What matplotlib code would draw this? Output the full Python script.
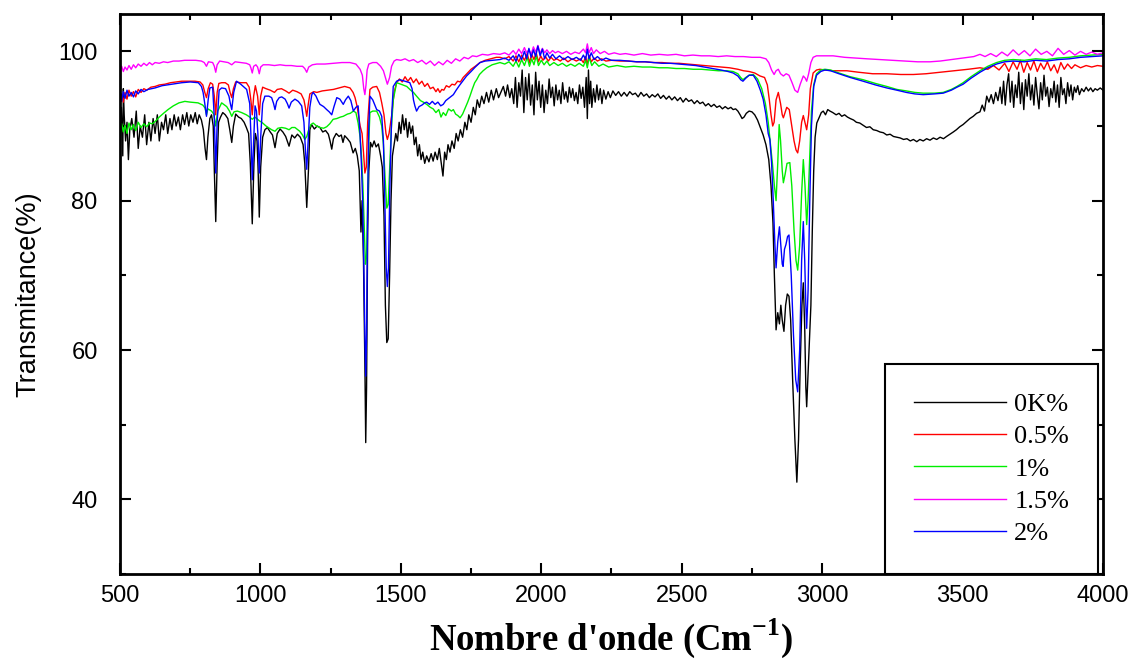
import numpy as np
import matplotlib
matplotlib.use("Agg")
import matplotlib.pyplot as plt
from matplotlib.ticker import MultipleLocator

plt.rcParams["mathtext.fontset"] = "custom"
plt.rcParams["mathtext.rm"] = "Liberation Serif:bold"
plt.rcParams["mathtext.bf"] = "Liberation Serif:bold"

# spectra: (wavenumber cm-1, transmittance %)
black_0k = [
    (500, 88.5), (505, 92.5), (510, 86.0), (512, 95.0), (515, 91.5), (520, 88.0), (525, 90.5),
    (530, 85.5), (535, 89.5), (542, 91.0), (550, 88.5), (558, 92.0), (565, 87.0), (572, 90.0),
    (580, 88.5), (588, 91.5), (595, 87.5), (603, 90.5), (610, 88.0), (618, 91.0), (625, 89.0),
    (633, 91.5), (640, 88.0), (648, 90.5), (655, 89.5), (663, 91.5), (670, 89.0), (678, 91.0),
    (685, 89.5), (693, 91.5), (700, 90.0), (708, 91.2), (715, 89.5), (723, 91.5), (730, 90.2),
    (738, 91.8), (745, 90.0), (752, 91.5), (760, 90.5), (768, 91.8), (775, 90.3), (782, 91.5),
    (790, 90.8), (797, 89.5), (803, 87.0), (808, 85.5), (813, 88.5), (820, 91.0), (826, 91.5),
    (832, 90.0), (836, 84.0), (841, 77.2), (846, 85.0), (851, 90.5), (858, 91.2), (866, 91.8),
    (875, 91.5), (884, 91.0), (891, 89.5), (898, 87.8), (904, 90.0), (912, 91.6), (922, 91.2),
    (932, 91.0), (942, 90.5), (950, 89.8), (958, 89.0), (964, 85.0), (971, 76.9), (977, 85.0),
    (982, 89.0), (988, 88.0), (992, 84.0), (996, 77.8), (1001, 84.5), (1008, 88.5), (1016, 89.5),
    (1025, 89.8), (1035, 89.2), (1043, 88.8), (1052, 87.1), (1060, 89.0), (1070, 89.6),
    (1080, 89.2), (1090, 88.6), (1102, 87.3), (1112, 88.8), (1122, 88.4), (1132, 88.9),
    (1142, 88.5), (1152, 87.5), (1158, 85.0), (1165, 79.1), (1171, 84.0), (1176, 89.5),
    (1182, 90.2), (1192, 89.6), (1202, 90.0), (1212, 89.8), (1222, 89.2), (1232, 89.4),
    (1242, 88.9), (1248, 88.0), (1254, 86.9), (1260, 88.3), (1270, 89.0), (1280, 88.6),
    (1288, 88.8), (1294, 87.8), (1300, 88.7), (1310, 88.3), (1320, 87.8), (1330, 86.4),
    (1338, 87.0), (1345, 86.0), (1352, 84.0), (1358, 75.8), (1362, 80.0), (1367, 72.0),
    (1372, 58.0), (1375, 47.6), (1378, 55.0), (1382, 76.0), (1386, 84.0), (1392, 87.8),
    (1398, 87.2), (1405, 88.0), (1412, 87.2), (1420, 87.6), (1428, 86.0), (1434, 84.5),
    (1440, 78.0), (1445, 66.0), (1450, 61.0), (1455, 61.5), (1460, 70.0), (1465, 80.0),
    (1470, 86.0), (1476, 87.5), (1482, 89.0), (1488, 88.0), (1494, 90.5), (1500, 89.0),
    (1506, 91.5), (1512, 89.5), (1518, 91.0), (1524, 88.5), (1530, 90.5), (1536, 89.0),
    (1542, 90.0), (1548, 87.5), (1554, 88.5), (1560, 86.0), (1566, 87.5), (1572, 85.5),
    (1578, 86.5), (1585, 85.0), (1592, 86.0), (1600, 85.2), (1608, 86.3), (1615, 85.3),
    (1622, 86.5), (1630, 85.5), (1637, 87.0), (1644, 85.0), (1650, 83.3), (1656, 86.5),
    (1662, 85.5), (1668, 87.5), (1675, 86.5), (1682, 88.0), (1690, 87.0), (1697, 89.0),
    (1704, 88.0), (1712, 89.5), (1720, 88.5), (1728, 90.5), (1735, 89.5), (1742, 91.5),
    (1750, 90.5), (1758, 92.5), (1765, 91.5), (1772, 93.5), (1780, 92.5), (1788, 94.0),
    (1796, 93.0), (1805, 94.5), (1813, 93.2), (1822, 94.8), (1830, 93.5), (1840, 95.0),
    (1848, 93.8), (1856, 94.5), (1865, 95.3), (1873, 94.0), (1880, 95.5), (1888, 93.8),
    (1895, 95.0), (1902, 93.0), (1908, 96.5), (1914, 92.5), (1920, 95.8), (1926, 94.0),
    (1932, 97.5), (1938, 91.8), (1944, 96.5), (1950, 93.5), (1956, 97.0), (1962, 92.8),
    (1968, 95.5), (1974, 91.5), (1980, 97.2), (1986, 93.5), (1992, 96.0), (1998, 92.5),
    (2004, 95.5), (2010, 91.8), (2016, 94.8), (2022, 93.0), (2028, 96.3), (2034, 93.8),
    (2040, 95.2), (2046, 92.7), (2052, 95.5), (2058, 93.5), (2064, 94.8), (2070, 93.0),
    (2076, 95.8), (2082, 93.6), (2088, 94.6), (2094, 93.2), (2100, 95.2), (2106, 93.8),
    (2112, 95.0), (2118, 93.4), (2124, 94.5), (2130, 93.0), (2136, 95.5), (2142, 93.7),
    (2148, 95.2), (2154, 92.5), (2160, 96.5), (2164, 91.0), (2168, 97.5), (2172, 93.0),
    (2176, 96.0), (2180, 92.5), (2186, 95.0), (2192, 93.2), (2198, 95.5), (2204, 93.5),
    (2210, 95.0), (2216, 93.0), (2222, 94.8), (2230, 93.6), (2238, 94.6), (2246, 93.8),
    (2255, 94.7), (2265, 94.1), (2275, 94.6), (2285, 94.0), (2295, 94.5), (2305, 94.0),
    (2315, 94.6), (2325, 94.2), (2335, 94.4), (2345, 93.9), (2355, 94.5), (2365, 94.0),
    (2375, 94.3), (2385, 93.8), (2395, 94.2), (2405, 93.9), (2415, 94.3), (2425, 93.7),
    (2435, 94.1), (2445, 93.6), (2455, 94.0), (2465, 93.5), (2475, 93.9), (2485, 93.4),
    (2495, 93.8), (2505, 93.2), (2515, 93.7), (2525, 93.3), (2535, 93.5), (2545, 93.0),
    (2555, 93.4), (2565, 93.0), (2575, 93.2), (2585, 92.7), (2595, 93.0), (2605, 92.6),
    (2615, 92.9), (2625, 92.5), (2635, 92.7), (2645, 92.3), (2655, 92.6), (2665, 92.3),
    (2675, 92.5), (2683, 92.2), (2692, 92.3), (2700, 92.0), (2708, 91.5), (2715, 91.0),
    (2722, 91.2), (2730, 91.7), (2740, 92.0), (2750, 91.9), (2760, 91.5), (2770, 90.8),
    (2780, 89.8), (2790, 88.8), (2800, 87.5), (2810, 85.5), (2818, 82.0), (2825, 77.0),
    (2830, 70.0), (2836, 62.7), (2842, 65.0), (2848, 63.5), (2853, 66.0), (2858, 64.0),
    (2864, 62.5), (2870, 66.0), (2876, 67.5), (2882, 67.2), (2888, 64.0), (2895, 56.0),
    (2903, 48.0), (2910, 42.3), (2916, 48.0), (2922, 58.0), (2928, 66.0), (2933, 69.0),
    (2938, 63.0), (2942, 55.0), (2945, 52.4), (2950, 57.0), (2955, 61.8), (2960, 66.0),
    (2965, 76.0), (2970, 84.0), (2975, 88.5), (2981, 90.4), (2990, 91.2), (2997, 91.8),
    (3004, 92.0), (3012, 91.5), (3020, 92.2), (3028, 92.0), (3038, 91.8), (3050, 91.5),
    (3060, 91.7), (3070, 91.3), (3080, 91.5), (3090, 91.2), (3100, 91.0), (3112, 90.8),
    (3122, 90.5), (3134, 90.4), (3146, 90.1), (3158, 89.8), (3170, 89.9), (3182, 89.5),
    (3194, 89.4), (3206, 89.2), (3218, 89.1), (3230, 88.8), (3242, 88.9), (3254, 88.6),
    (3266, 88.5), (3278, 88.4), (3290, 88.2), (3302, 88.3), (3314, 88.0), (3325, 88.2),
    (3337, 87.9), (3348, 88.2), (3360, 88.0), (3372, 88.3), (3384, 88.1), (3396, 88.4),
    (3408, 88.2), (3420, 88.5), (3432, 88.3), (3443, 88.6), (3455, 88.9), (3467, 89.2),
    (3478, 89.5), (3490, 89.9), (3502, 90.2), (3514, 90.6), (3526, 91.0), (3538, 91.3),
    (3550, 91.7), (3562, 91.9), (3570, 92.8), (3578, 92.0), (3586, 94.0), (3594, 93.2),
    (3602, 94.2), (3610, 93.0), (3618, 94.5), (3626, 93.4), (3634, 95.2), (3640, 93.0),
    (3646, 96.0), (3652, 92.8), (3658, 95.5), (3664, 97.0), (3670, 93.2), (3676, 96.0),
    (3682, 92.5), (3688, 95.5), (3694, 93.8), (3700, 97.2), (3706, 93.0), (3712, 95.8),
    (3718, 92.2), (3724, 96.2), (3730, 94.0), (3736, 97.0), (3742, 93.5), (3748, 95.5),
    (3754, 92.8), (3760, 96.5), (3766, 94.2), (3772, 92.3), (3778, 95.8), (3784, 93.5),
    (3790, 96.8), (3796, 94.0), (3802, 95.2), (3808, 92.6), (3814, 95.0), (3820, 93.8),
    (3826, 96.0), (3832, 93.2), (3838, 95.5), (3844, 92.5), (3850, 96.5), (3856, 94.2),
    (3862, 95.0), (3868, 93.0), (3874, 95.8), (3880, 94.0), (3886, 95.5), (3892, 93.5),
    (3898, 95.2), (3904, 94.5), (3910, 95.4), (3916, 94.2), (3924, 95.0), (3932, 94.6),
    (3940, 95.2), (3948, 94.7), (3956, 95.1), (3964, 94.6), (3972, 95.0), (3980, 94.8),
    (3990, 95.1), (4000, 94.8),
]

red_05 = [
    (500, 93.5), (506, 94.3), (512, 93.2), (518, 94.5), (525, 93.6), (532, 94.8), (540, 94.0),
    (548, 94.6), (556, 93.9), (565, 94.9), (575, 94.5), (585, 95.0), (595, 94.8), (610, 95.2),
    (625, 95.3), (640, 95.5), (660, 95.6), (680, 95.8), (700, 95.9), (720, 96.0), (740, 96.0),
    (767, 96.0), (785, 95.9), (795, 95.5), (802, 94.5), (808, 93.8), (814, 95.0), (822, 95.8),
    (830, 95.6), (836, 94.0), (841, 91.5), (846, 94.5), (852, 95.7), (862, 95.8), (875, 95.8),
    (886, 95.5), (892, 94.5), (898, 93.8), (904, 95.0), (912, 95.9), (930, 95.8), (950, 95.8),
    (960, 95.2), (966, 93.5), (971, 91.5), (976, 94.0), (982, 95.4), (990, 94.0), (996, 91.5),
    (1001, 94.0), (1008, 95.2), (1020, 95.0), (1035, 94.8), (1050, 94.5), (1060, 94.9),
    (1075, 95.0), (1090, 94.7), (1102, 94.4), (1115, 94.8), (1130, 94.6), (1145, 94.3),
    (1155, 93.5), (1160, 92.5), (1165, 91.3), (1170, 92.8), (1176, 94.3), (1190, 94.6),
    (1201, 94.5), (1220, 94.7), (1240, 94.8), (1260, 94.9), (1280, 95.1), (1300, 95.3),
    (1319, 95.1), (1330, 94.5), (1337, 93.8), (1345, 92.5), (1355, 90.0), (1362, 89.0),
    (1367, 86.5), (1372, 83.7), (1377, 84.5), (1382, 90.5), (1390, 94.9), (1400, 95.2),
    (1414, 95.3), (1424, 94.5), (1432, 93.1), (1440, 91.5), (1447, 89.0), (1452, 88.2),
    (1458, 89.0), (1467, 91.3), (1476, 94.5), (1485, 95.8), (1495, 96.3), (1505, 95.9),
    (1515, 96.6), (1525, 96.0), (1535, 96.5), (1545, 95.8), (1555, 96.3), (1565, 95.6),
    (1575, 96.0), (1585, 95.3), (1595, 95.7), (1605, 95.0), (1615, 95.2), (1625, 94.6),
    (1632, 95.0), (1639, 94.5), (1646, 94.9), (1653, 94.8), (1662, 95.4), (1672, 95.2),
    (1682, 95.6), (1692, 95.5), (1702, 96.0), (1712, 95.9), (1722, 96.5), (1735, 97.0),
    (1750, 97.6), (1765, 98.0), (1782, 98.5), (1800, 98.8), (1820, 99.0), (1840, 99.2),
    (1853, 99.2), (1870, 99.0), (1885, 99.3), (1900, 98.7), (1910, 99.4), (1920, 98.6),
    (1930, 99.5), (1940, 98.8), (1950, 99.7), (1958, 98.5), (1966, 99.6), (1974, 98.9),
    (1982, 99.8), (1990, 98.6), (1998, 99.4), (2006, 98.8), (2015, 99.3), (2025, 98.7),
    (2035, 99.2), (2045, 98.8), (2055, 99.0), (2068, 98.7), (2080, 99.1), (2095, 98.6),
    (2110, 99.0), (2125, 98.7), (2140, 99.0), (2150, 98.5), (2158, 99.3), (2164, 98.2),
    (2170, 99.5), (2178, 98.6), (2188, 99.1), (2200, 98.7), (2215, 99.0), (2230, 98.7),
    (2250, 98.8), (2280, 98.7), (2310, 98.7), (2340, 98.6), (2370, 98.6), (2400, 98.5),
    (2430, 98.5), (2460, 98.4), (2490, 98.4), (2520, 98.3), (2550, 98.2), (2580, 98.1),
    (2612, 98.0), (2640, 97.9), (2670, 97.8), (2700, 97.6), (2720, 97.4), (2740, 97.3),
    (2760, 97.1), (2779, 96.7), (2795, 96.5), (2805, 95.5), (2812, 93.5), (2818, 91.5),
    (2824, 90.0), (2829, 90.5), (2836, 93.5), (2844, 94.5), (2852, 93.0), (2858, 91.5),
    (2862, 91.1), (2868, 91.8), (2874, 92.5), (2883, 92.2), (2892, 90.0), (2900, 88.0),
    (2907, 86.8), (2913, 86.4), (2920, 88.0), (2927, 90.5), (2933, 91.4), (2940, 90.3),
    (2945, 89.5), (2952, 91.5), (2958, 95.0), (2968, 97.1), (2980, 97.5), (2992, 97.6),
    (3010, 97.5), (3040, 97.4), (3088, 97.4), (3130, 97.2), (3180, 97.0), (3230, 97.0),
    (3280, 96.9), (3325, 96.9), (3370, 97.0), (3420, 97.2), (3470, 97.4), (3520, 97.6),
    (3562, 97.8), (3590, 97.6), (3610, 98.1), (3630, 97.5), (3650, 98.4), (3665, 97.3),
    (3680, 98.6), (3694, 97.6), (3706, 98.8), (3718, 97.2), (3730, 98.5), (3742, 97.5),
    (3754, 98.7), (3766, 97.3), (3778, 98.4), (3790, 97.6), (3802, 98.6), (3814, 97.4),
    (3826, 98.2), (3838, 97.1), (3850, 98.5), (3862, 97.6), (3874, 98.3), (3888, 97.7),
    (3900, 98.2), (3920, 97.8), (3940, 98.1), (3960, 97.9), (3980, 98.1), (4000, 98.0),
]

green_1 = [
    (500, 89.5), (506, 90.3), (512, 89.2), (518, 90.1), (525, 89.0), (532, 90.4), (540, 89.5),
    (548, 90.2), (556, 89.4), (565, 90.5), (575, 89.8), (585, 90.3), (595, 89.9), (605, 90.4),
    (615, 90.3), (625, 90.6), (640, 91.2), (655, 91.7), (671, 92.2), (690, 92.7), (710, 93.1),
    (731, 93.3), (750, 93.2), (778, 93.1), (795, 92.8), (803, 92.4), (808, 91.5), (813, 92.3),
    (826, 92.0), (834, 91.6), (841, 90.0), (848, 92.0), (862, 93.1), (880, 92.6), (890, 92.0),
    (898, 91.3), (906, 91.9), (918, 92.0), (933, 91.8), (950, 91.5), (962, 91.2), (971, 90.9),
    (980, 91.2), (990, 90.9), (996, 90.7), (1005, 90.5), (1020, 90.0), (1040, 89.5),
    (1052, 89.3), (1062, 89.7), (1076, 89.8), (1090, 89.7), (1102, 89.5), (1112, 89.8),
    (1123, 89.8), (1140, 89.3), (1150, 88.8), (1158, 88.2), (1165, 88.6), (1172, 89.5),
    (1180, 90.2), (1188, 90.4), (1200, 90.0), (1212, 89.8), (1225, 89.7), (1236, 89.9),
    (1247, 90.3), (1259, 90.9), (1272, 91.0), (1285, 91.2), (1295, 91.3), (1310, 91.6),
    (1320, 91.7), (1331, 92.0), (1340, 91.8), (1348, 90.4), (1355, 88.5), (1360, 86.0),
    (1365, 82.0), (1370, 76.0), (1374, 71.5), (1378, 72.5), (1382, 80.0), (1386, 88.0),
    (1390, 91.8), (1400, 92.0), (1414, 92.0), (1424, 91.2), (1432, 90.0), (1438, 87.5),
    (1444, 83.0), (1450, 79.0), (1455, 79.5), (1460, 84.0), (1466, 89.5), (1473, 93.5),
    (1485, 95.8), (1500, 95.6), (1521, 95.3), (1535, 94.8), (1545, 94.5), (1556, 94.0),
    (1570, 93.4), (1580, 93.2), (1592, 92.9), (1605, 92.5), (1615, 92.3), (1625, 91.8),
    (1635, 92.2), (1643, 91.2), (1651, 91.8), (1660, 91.4), (1670, 92.3), (1680, 92.0),
    (1687, 92.2), (1695, 91.6), (1703, 91.4), (1711, 91.1), (1720, 91.6), (1730, 92.5),
    (1738, 93.2), (1746, 94.0), (1755, 95.0), (1763, 95.8), (1770, 96.2), (1780, 96.9),
    (1793, 97.4), (1806, 97.8), (1825, 98.2), (1853, 98.5), (1870, 98.3), (1885, 98.6),
    (1900, 98.0), (1910, 98.7), (1920, 97.9), (1930, 98.9), (1940, 98.1), (1950, 99.2),
    (1958, 98.0), (1966, 99.0), (1974, 98.2), (1982, 99.4), (1990, 98.1), (2000, 98.8),
    (2010, 98.2), (2020, 98.7), (2030, 98.1), (2045, 98.5), (2060, 98.1), (2075, 98.4),
    (2090, 98.0), (2105, 98.3), (2120, 98.0), (2135, 98.4), (2150, 98.0), (2158, 98.8),
    (2164, 97.8), (2170, 99.2), (2180, 98.1), (2190, 98.6), (2205, 98.0), (2220, 98.3),
    (2240, 97.9), (2270, 98.1), (2300, 97.9), (2330, 98.0), (2360, 97.9), (2390, 97.9),
    (2420, 97.8), (2450, 97.8), (2480, 97.7), (2510, 97.7), (2541, 97.6), (2570, 97.6),
    (2600, 97.5), (2630, 97.4), (2660, 97.4), (2683, 97.3), (2700, 97.0), (2710, 96.5),
    (2718, 96.2), (2728, 96.5), (2740, 96.8), (2755, 96.9), (2770, 96.3), (2785, 95.0),
    (2798, 93.0), (2808, 90.5), (2816, 87.5), (2823, 85.0), (2830, 82.0), (2836, 80.0),
    (2842, 85.0), (2847, 90.2), (2852, 88.0), (2858, 84.0), (2862, 82.4), (2868, 83.5),
    (2875, 85.0), (2885, 85.1), (2892, 82.0), (2900, 76.0), (2907, 72.0), (2913, 70.7),
    (2920, 74.0), (2927, 81.0), (2933, 85.5), (2939, 82.0), (2945, 76.8), (2950, 80.0),
    (2956, 86.0), (2962, 92.0), (2970, 95.5), (2980, 97.0), (2995, 97.5), (3010, 97.6),
    (3030, 97.5), (3060, 97.1), (3100, 96.6), (3146, 96.2), (3190, 95.7), (3230, 95.3),
    (3266, 94.9), (3300, 94.7), (3330, 94.5), (3360, 94.4), (3400, 94.4), (3431, 94.5),
    (3460, 94.9), (3480, 95.3), (3502, 95.8), (3530, 96.6), (3562, 97.4), (3590, 98.0),
    (3621, 98.5), (3650, 98.8), (3680, 98.9), (3720, 98.8), (3760, 99.0), (3799, 98.9),
    (3840, 99.1), (3880, 99.2), (3920, 99.4), (3960, 99.5), (4000, 99.6),
]

magenta_15 = [
    (500, 97.5), (506, 98.0), (512, 97.3), (518, 97.9), (525, 97.5), (532, 98.1), (540, 97.6),
    (548, 98.2), (556, 97.8), (565, 98.3), (575, 98.0), (585, 98.4), (595, 98.1), (605, 98.5),
    (615, 98.2), (625, 98.5), (640, 98.4), (655, 98.6), (670, 98.5), (690, 98.7), (710, 98.7),
    (730, 98.8), (750, 98.8), (770, 98.8), (790, 98.7), (800, 98.5), (808, 98.0), (815, 98.6),
    (830, 98.5), (836, 98.0), (841, 97.2), (846, 98.2), (855, 98.7), (870, 98.6), (885, 98.5),
    (898, 98.2), (910, 98.6), (930, 98.5), (950, 98.4), (962, 98.2), (966, 97.8), (971, 97.1),
    (976, 98.0), (984, 98.2), (990, 97.9), (996, 97.0), (1001, 97.9), (1010, 98.2),
    (1030, 98.2), (1050, 98.1), (1070, 98.2), (1090, 98.1), (1110, 98.1), (1130, 98.0),
    (1150, 98.0), (1158, 97.7), (1165, 97.2), (1172, 97.9), (1185, 98.2), (1201, 98.3),
    (1230, 98.3), (1260, 98.4), (1290, 98.5), (1319, 98.5), (1340, 98.3), (1355, 97.6),
    (1363, 96.8), (1368, 95.0), (1372, 94.2), (1376, 95.5), (1380, 97.5), (1386, 98.3),
    (1400, 98.5), (1414, 98.5), (1428, 98.0), (1438, 97.4), (1445, 96.5), (1452, 95.6),
    (1460, 96.5), (1467, 98.0), (1476, 98.7), (1485, 98.9), (1500, 98.8), (1515, 99.0),
    (1530, 98.7), (1545, 98.9), (1560, 98.5), (1575, 98.8), (1590, 98.3), (1605, 98.7),
    (1620, 98.1), (1635, 98.6), (1650, 98.2), (1665, 98.8), (1680, 98.4), (1695, 99.0),
    (1710, 98.7), (1725, 99.2), (1740, 99.0), (1755, 99.4), (1770, 99.3), (1790, 99.6),
    (1810, 99.5), (1830, 99.7), (1853, 99.6), (1870, 99.8), (1885, 99.5), (1900, 100.1),
    (1910, 99.6), (1920, 100.3), (1930, 99.7), (1940, 100.5), (1948, 99.8), (1956, 100.2),
    (1964, 99.6), (1972, 100.6), (1980, 99.9), (1988, 100.8), (1996, 99.7), (2004, 100.4),
    (2012, 99.8), (2020, 100.2), (2030, 99.7), (2040, 100.1), (2050, 99.8), (2060, 100.0),
    (2075, 99.7), (2090, 100.0), (2105, 99.6), (2120, 99.9), (2135, 99.7), (2150, 100.3),
    (2158, 99.8), (2164, 101.0), (2170, 99.8), (2178, 100.5), (2186, 99.7), (2196, 100.2),
    (2210, 99.7), (2225, 100.0), (2240, 99.6), (2260, 99.8), (2280, 99.6), (2300, 99.7),
    (2330, 99.5), (2360, 99.7), (2390, 99.5), (2420, 99.6), (2450, 99.5), (2480, 99.6),
    (2510, 99.4), (2540, 99.5), (2570, 99.4), (2600, 99.4), (2630, 99.3), (2660, 99.4),
    (2690, 99.3), (2720, 99.3), (2750, 99.2), (2780, 99.2), (2800, 99.0), (2810, 98.5),
    (2820, 97.5), (2829, 96.9), (2836, 97.4), (2844, 97.6), (2852, 97.0), (2862, 96.7),
    (2872, 97.0), (2882, 96.8), (2893, 95.8), (2903, 94.8), (2913, 94.5), (2922, 95.6),
    (2933, 96.7), (2940, 96.4), (2945, 96.0), (2952, 97.0), (2960, 98.5), (2968, 99.2),
    (2980, 99.4), (3000, 99.4), (3039, 99.4), (3080, 99.2), (3120, 99.1), (3160, 99.0),
    (3206, 98.9), (3250, 98.8), (3300, 98.7), (3340, 98.6), (3384, 98.6), (3420, 98.7),
    (3460, 98.9), (3500, 99.1), (3540, 99.3), (3562, 99.6), (3580, 99.3), (3600, 99.7),
    (3620, 99.3), (3640, 99.9), (3660, 99.4), (3680, 100.2), (3700, 99.5), (3720, 100.1),
    (3740, 99.4), (3760, 100.3), (3780, 99.6), (3800, 100.0), (3820, 99.4), (3840, 100.4),
    (3860, 99.6), (3880, 100.1), (3900, 99.5), (3920, 100.0), (3940, 99.6), (3960, 99.9),
    (3980, 99.6), (4000, 99.8),
]

blue_2 = [
    (500, 94.0), (506, 93.3), (512, 94.6), (518, 93.7), (525, 94.8), (532, 94.0), (540, 94.5),
    (548, 93.9), (556, 94.7), (565, 94.3), (575, 94.9), (585, 94.6), (600, 94.9), (625, 95.1),
    (650, 95.4), (684, 95.6), (720, 95.8), (750, 95.9), (779, 95.8), (790, 95.3), (796, 94.5),
    (802, 93.0), (808, 91.3), (814, 93.5), (820, 95.1), (830, 95.2), (836, 91.0), (841, 83.7),
    (846, 90.5), (853, 94.8), (862, 95.1), (876, 95.0), (888, 94.0), (893, 93.0), (898, 92.2),
    (905, 94.5), (915, 96.0), (930, 95.6), (951, 94.9), (962, 93.0), (966, 89.0), (971, 82.8),
    (976, 88.0), (981, 92.7), (986, 92.0), (991, 89.0), (996, 83.7), (1001, 88.5), (1008, 93.0),
    (1016, 94.0), (1030, 94.0), (1040, 93.8), (1047, 93.0), (1052, 92.2), (1058, 93.3),
    (1067, 93.8), (1076, 93.9), (1088, 93.6), (1096, 93.0), (1102, 92.4), (1110, 93.2),
    (1123, 93.6), (1135, 93.3), (1147, 92.7), (1155, 90.5), (1160, 87.0), (1165, 84.2),
    (1170, 88.0), (1176, 92.5), (1183, 94.2), (1188, 94.5), (1198, 94.0), (1205, 93.4),
    (1212, 92.9), (1225, 92.6), (1236, 92.2), (1245, 91.9), (1254, 91.5), (1262, 92.6),
    (1272, 93.8), (1283, 93.6), (1290, 93.2), (1295, 92.9), (1303, 93.5), (1313, 94.0),
    (1322, 93.4), (1331, 92.0), (1340, 92.5), (1348, 92.7), (1354, 89.5), (1360, 84.6),
    (1364, 80.0), (1368, 72.0), (1372, 62.0), (1375, 56.5), (1378, 62.0), (1382, 80.0),
    (1386, 90.0), (1390, 94.0), (1400, 93.5), (1414, 92.2), (1424, 92.0), (1432, 91.3),
    (1438, 88.0), (1443, 80.0), (1448, 71.0), (1452, 68.5), (1456, 71.0), (1461, 82.0),
    (1467, 91.0), (1473, 95.3), (1485, 96.0), (1497, 96.2), (1515, 96.0), (1532, 95.8),
    (1540, 95.0), (1545, 93.5), (1550, 92.7), (1556, 92.0), (1565, 92.6), (1575, 92.8),
    (1585, 93.1), (1592, 93.2), (1602, 92.9), (1612, 93.3), (1622, 92.9), (1632, 93.2),
    (1642, 92.7), (1651, 92.9), (1660, 93.4), (1670, 93.7), (1680, 94.0), (1687, 94.2),
    (1697, 94.8), (1708, 95.4), (1720, 96.0), (1734, 96.7), (1750, 97.3), (1765, 97.9),
    (1782, 98.5), (1800, 98.7), (1825, 98.8), (1853, 98.9), (1870, 99.1), (1885, 98.8),
    (1900, 99.4), (1910, 98.7), (1920, 99.6), (1930, 98.9), (1940, 100.0), (1948, 99.0),
    (1956, 100.4), (1964, 99.2), (1972, 100.2), (1980, 99.3), (1988, 100.7), (1996, 99.4),
    (2004, 100.3), (2012, 99.0), (2020, 99.8), (2030, 99.1), (2040, 99.6), (2052, 99.0),
    (2065, 99.4), (2080, 98.9), (2095, 99.3), (2110, 98.9), (2125, 99.2), (2140, 98.8),
    (2150, 99.5), (2158, 98.9), (2164, 100.3), (2170, 99.0), (2178, 99.8), (2188, 98.9),
    (2200, 99.3), (2215, 98.8), (2230, 99.1), (2250, 98.8), (2280, 98.8), (2310, 98.7),
    (2340, 98.6), (2370, 98.6), (2400, 98.5), (2430, 98.4), (2460, 98.4), (2490, 98.3),
    (2520, 98.2), (2550, 98.1), (2580, 97.9), (2612, 97.7), (2640, 97.5), (2665, 97.3),
    (2683, 97.1), (2700, 96.7), (2710, 96.2), (2718, 96.0), (2728, 96.4), (2740, 96.8),
    (2755, 96.8), (2768, 96.0), (2780, 94.8), (2790, 93.6), (2800, 91.5), (2808, 89.0),
    (2814, 88.2), (2820, 85.1), (2826, 80.0), (2832, 74.0), (2836, 71.0), (2842, 74.5),
    (2848, 76.5), (2853, 74.0), (2858, 71.5), (2861, 71.2), (2866, 73.5), (2871, 74.1),
    (2877, 75.2), (2882, 75.4), (2890, 70.0), (2898, 62.0), (2906, 56.0), (2913, 54.4),
    (2920, 60.0), (2927, 72.0), (2933, 77.2), (2938, 72.0), (2942, 66.0), (2945, 62.9),
    (2950, 68.0), (2956, 80.0), (2962, 90.0), (2970, 95.3), (2980, 96.8), (2995, 97.3),
    (3010, 97.5), (3030, 97.4), (3060, 97.0), (3100, 96.5), (3146, 96.0), (3190, 95.5),
    (3230, 95.1), (3266, 94.8), (3300, 94.5), (3330, 94.3), (3360, 94.2), (3400, 94.3),
    (3431, 94.4), (3460, 94.8), (3480, 95.2), (3502, 95.6), (3530, 96.4), (3562, 97.2),
    (3590, 97.8), (3621, 98.3), (3650, 98.6), (3680, 98.7), (3720, 98.6), (3760, 98.8),
    (3799, 98.7), (3840, 98.9), (3880, 99.0), (3920, 99.2), (3960, 99.3), (4000, 99.4),
]

labels = ["0K%", "0.5%", "1%", "1.5%", "2%"]
colors = ["black", "#ff0000", "#00ee00", "#ff00ff", "#0000ff"]

fig = plt.figure(figsize=(11.35, 6.61), dpi=100)
ax = fig.add_axes([0.1057, 0.1316, 0.8661, 0.8472])

for spec, lab, col in zip([black_0k, red_05, green_1, magenta_15, blue_2], labels, colors):
    wn, tr = np.array(spec).T
    ax.plot(wn, tr, color=col, lw=1.0, label=lab)

ax.set_xlim(500, 4000)
ax.set_ylim(30, 105)
ax.xaxis.set_major_locator(MultipleLocator(500))
ax.xaxis.set_minor_locator(MultipleLocator(250))
ax.yaxis.set_major_locator(MultipleLocator(20))
ax.yaxis.set_minor_locator(MultipleLocator(10))
ax.tick_params(which="both", direction="in", top=True, right=True, width=1.5)
ax.tick_params(which="major", length=8)
ax.tick_params(which="minor", length=4)
for lbl in ax.get_xticklabels() + ax.get_yticklabels():
    lbl.set_family("Liberation Sans")
    lbl.set_fontsize(17)
ax.tick_params(axis="x", pad=8)
ax.tick_params(axis="y", pad=16)
for sp in ax.spines.values():
    sp.set_linewidth(2)

ax.set_xlabel(r"Nombre d'onde (Cm$^{\mathbf{-1}}$)", family="Liberation Serif",
              fontweight="bold", fontsize=26.5, labelpad=7)
ax.set_ylabel("Transmitance(%)", family="Liberation Sans", fontsize=19.5, labelpad=12)

leg = ax.legend(loc="lower right", bbox_to_anchor=(0.995, 0.0), borderaxespad=0,
                prop={"family": "Liberation Serif", "size": 19}, frameon=True,
                fancybox=False, framealpha=1, handlelength=3.5, handletextpad=0.3,
                labelspacing=0.33, borderpad=1.1)
leg.get_frame().set_edgecolor("black")
leg.get_frame().set_linewidth(1.5)

fig.savefig("out.png", dpi=100)
